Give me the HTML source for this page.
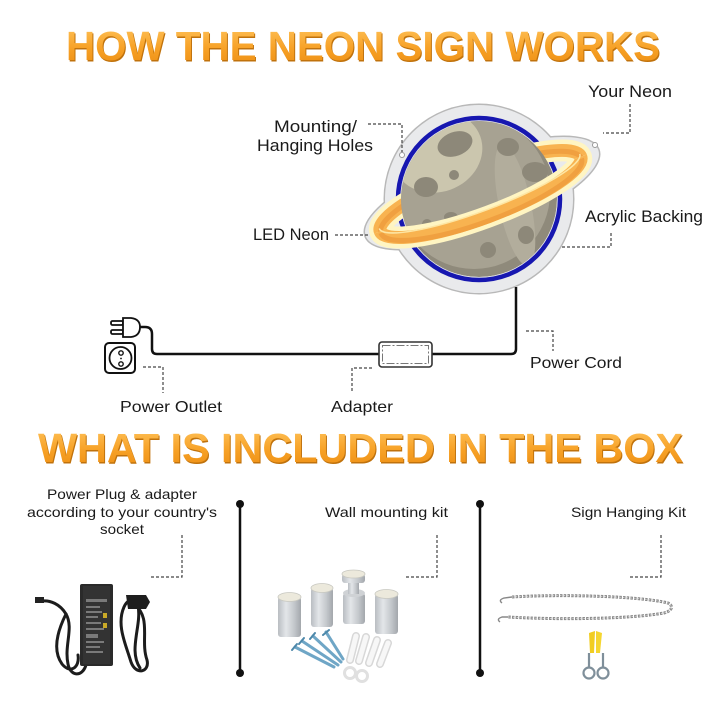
<!DOCTYPE html>
<html>
<head>
<meta charset="utf-8">
<style>
  html,body{margin:0;padding:0;background:#fff;}
  svg{display:block;}
  .lbl{font-family:"Liberation Sans",sans-serif;fill:#1a1a1a;}
  .ttl{font-family:"Liberation Sans",sans-serif;font-weight:bold;}
</style>
</head>
<body>
<svg width="720" height="720" viewBox="0 0 720 720" xmlns="http://www.w3.org/2000/svg">
  <defs>
    <linearGradient id="tg" x1="0" y1="0" x2="0" y2="1">
      <stop offset="0" stop-color="#ffc55e"/>
      <stop offset="0.55" stop-color="#f7a126"/>
      <stop offset="1" stop-color="#ec8d12"/>
    </linearGradient>
    <linearGradient id="cyl" x1="0" y1="0" x2="1" y2="0">
      <stop offset="0" stop-color="#b9bdc2"/>
      <stop offset="0.35" stop-color="#e3e6e9"/>
      <stop offset="0.7" stop-color="#c4c8cc"/>
      <stop offset="1" stop-color="#a3a7ac"/>
    </linearGradient>
    <clipPath id="sp"><circle cx="479" cy="199" r="78"/></clipPath>
  </defs>

  <!-- Titles -->
  <text class="ttl" x="67" y="61.5" font-size="41" fill="#c0720c" textLength="594" lengthAdjust="spacingAndGlyphs">HOW THE NEON SIGN WORKS</text>
  <text class="ttl" x="66" y="60" font-size="41" fill="url(#tg)" textLength="594" lengthAdjust="spacingAndGlyphs">HOW THE NEON SIGN WORKS</text>

  <text class="ttl" x="39" y="463.5" font-size="41" fill="#c0720c" textLength="645" lengthAdjust="spacingAndGlyphs">WHAT IS INCLUDED IN THE BOX</text>
  <text class="ttl" x="38" y="462" font-size="41" fill="url(#tg)" textLength="645" lengthAdjust="spacingAndGlyphs">WHAT IS INCLUDED IN THE BOX</text>

  <!-- Acrylic backing -->
  <g stroke="#b8b8b8" stroke-width="3" fill="#e9eaec">
    <circle cx="479" cy="199" r="94"/>
    <ellipse cx="0" cy="0" rx="124" ry="38" transform="translate(482,193) rotate(-20.4)"/>
  </g>
  <g fill="#e9eaec">
    <circle cx="479" cy="199" r="94"/>
    <ellipse cx="0" cy="0" rx="124" ry="38" transform="translate(482,193) rotate(-20.4)"/>
  </g>

  <!-- Blue neon circle -->
  <circle cx="479" cy="199" r="81" fill="none" stroke="#1717b0" stroke-width="4.5"/>

  <!-- Ring back -->
  <g transform="translate(480.5,194) rotate(-20.4)" fill="none">
    <ellipse cx="0" cy="0" rx="107" ry="24" stroke="#fff5c2" stroke-width="22"/>
    <ellipse cx="0" cy="0" rx="107" ry="24" stroke="#f8b350" stroke-width="13"/>
    <ellipse cx="0" cy="2" rx="107" ry="26" stroke="#f0a040" stroke-width="5"/>
  </g>

  <!-- Sphere -->
  <g clip-path="url(#sp)">
    <circle cx="479" cy="199" r="78" fill="#8f8a7b"/>
    <circle cx="474" cy="193" r="76" fill="#a7a292"/>
    <ellipse cx="515" cy="205" rx="16" ry="62" fill="#b2ad9c" transform="rotate(-12 515 205)"/>
    <ellipse cx="437" cy="152" rx="46" ry="40" fill="#cbc6ae" transform="rotate(-20 437 152)"/>
    <g fill="#8d8879">
      <ellipse cx="455" cy="144" rx="18" ry="12" transform="rotate(-20 455 144)"/>
      <circle cx="454" cy="175" r="5"/>
      <ellipse cx="426" cy="187" rx="12" ry="10"/>
      <ellipse cx="508" cy="147" rx="11" ry="9"/>
      <ellipse cx="535" cy="172" rx="13" ry="10"/>
      <circle cx="427" cy="224" r="5"/>
      <ellipse cx="451" cy="217" rx="7" ry="5"/>
      <ellipse cx="526" cy="235" rx="8" ry="9"/>
      <circle cx="488" cy="250" r="8"/>
      <ellipse cx="493" cy="210" rx="10" ry="5"/>
    </g>
  </g>

  <!-- Ring front -->
  <g transform="translate(480.5,194) rotate(-20.4)" fill="none">
    <path d="M -107 0 A 107 24 0 0 0 107 0" stroke="#fff5c2" stroke-width="22"/>
    <path d="M -107 0 A 107 24 0 0 0 107 0" stroke="#f8b350" stroke-width="13"/>
    <path d="M -107 2 A 107 26 0 0 0 107 2" stroke="#f0a040" stroke-width="5"/>
    <path d="M -107 -3 A 107 20 0 0 0 107 -3" stroke="#fde6a4" stroke-width="1.5"/>
  </g>

  <!-- Mounting holes -->
  <circle cx="402" cy="155" r="2.5" fill="#fff" stroke="#999" stroke-width="1"/>
  <circle cx="595" cy="145" r="2.5" fill="#fff" stroke="#999" stroke-width="1"/>

  <!-- Power cord -->
  <path d="M 516 287 L 516 349 Q 516 354 511 354 L 157 354 Q 152 354 152 349 L 152 334 Q 152 327 145 327 L 140 327" fill="none" stroke="#111" stroke-width="2.5"/>

  <!-- Adapter box -->
  <rect x="379" y="342" width="53" height="25" rx="3" fill="#fff" stroke="#333" stroke-width="1.6"/>
  <rect x="382.5" y="345.5" width="46" height="18" fill="none" stroke="#777" stroke-width="1" stroke-dasharray="8 2 2 2"/>

  <!-- Plug icon -->
  <g fill="#fff" stroke="#111" stroke-width="1.8">
    <rect x="111" y="321" width="12" height="4" rx="1.5"/>
    <rect x="111" y="330" width="12" height="4" rx="1.5"/>
    <path d="M 123 318 L 131 318 Q 140 319 140 327 Q 140 336 131 337 L 123 337 Z"/>
  </g>
  <!-- Outlet icon -->
  <rect x="105" y="343" width="30" height="30" rx="4" fill="#fff" stroke="#111" stroke-width="2"/>
  <circle cx="120.5" cy="358" r="11" fill="none" stroke="#111" stroke-width="1.8"/>
  <circle cx="121" cy="353" r="2.2" fill="none" stroke="#111" stroke-width="1.4"/>
  <circle cx="121" cy="364" r="2.2" fill="none" stroke="#111" stroke-width="1.4"/>
  <circle cx="121" cy="358.5" r="0.9" fill="#111"/>

  <!-- Dashed leader lines -->
  <g fill="none" stroke="#444" stroke-width="1.2" stroke-dasharray="3 2">
    <path d="M 630 104 L 630 133 L 603 133"/>
    <path d="M 368 124 L 402 124 L 402 152"/>
    <path d="M 335 235 L 368 235"/>
    <path d="M 611 233 L 611 247 L 560 247"/>
    <path d="M 526 331 L 553 331 L 553 351"/>
    <path d="M 372 368 L 352 368 L 352 393"/>
    <path d="M 143 367 L 163 367 L 163 393"/>
    <path d="M 182 535 L 182 577 L 150 577"/>
    <path d="M 437 535 L 437 577 L 404 577"/>
    <path d="M 661 535 L 661 577 L 628 577"/>
  </g>

  <!-- Upper labels -->
  <text class="lbl" x="588" y="97" font-size="17" textLength="84" lengthAdjust="spacingAndGlyphs">Your Neon</text>
  <text class="lbl" x="274" y="132" font-size="17" textLength="83" lengthAdjust="spacingAndGlyphs">Mounting/</text>
  <text class="lbl" x="257" y="151" font-size="17" textLength="116" lengthAdjust="spacingAndGlyphs">Hanging Holes</text>
  <text class="lbl" x="253" y="240" font-size="17" textLength="76" lengthAdjust="spacingAndGlyphs">LED Neon</text>
  <text class="lbl" x="585" y="222" font-size="17" textLength="118" lengthAdjust="spacingAndGlyphs">Acrylic Backing</text>
  <text class="lbl" x="530" y="368" font-size="16" textLength="92" lengthAdjust="spacingAndGlyphs">Power Cord</text>
  <text class="lbl" x="331" y="412" font-size="16" textLength="62" lengthAdjust="spacingAndGlyphs">Adapter</text>
  <text class="lbl" x="120" y="412" font-size="16" textLength="102" lengthAdjust="spacingAndGlyphs">Power Outlet</text>

  <!-- Bottom labels -->
  <text class="lbl" x="47" y="499" font-size="14" textLength="150" lengthAdjust="spacingAndGlyphs">Power Plug &amp; adapter</text>
  <text class="lbl" x="27" y="517" font-size="14" textLength="190" lengthAdjust="spacingAndGlyphs">according to your country's</text>
  <text class="lbl" x="100" y="534" font-size="14" textLength="44" lengthAdjust="spacingAndGlyphs">socket</text>
  <text class="lbl" x="325" y="517" font-size="14" textLength="123" lengthAdjust="spacingAndGlyphs">Wall mounting kit</text>
  <text class="lbl" x="571" y="517" font-size="14" textLength="115" lengthAdjust="spacingAndGlyphs">Sign Hanging Kit</text>

  <!-- Dividers -->
  <g stroke="#111" stroke-width="2.5">
    <line x1="240" y1="504" x2="240" y2="673"/>
    <line x1="480" y1="504" x2="480" y2="673"/>
  </g>
  <g fill="#111">
    <circle cx="240" cy="504" r="4"/><circle cx="240" cy="673" r="4"/>
    <circle cx="480" cy="504" r="4"/><circle cx="480" cy="673" r="4"/>
  </g>

  <!-- Power adapter product -->
  <g fill="none" stroke="#1c1c1c" stroke-width="3" stroke-linecap="round">
    <path d="M 86 665 C 82 678, 70 676, 68 664 C 64 645, 74 628, 66 614 C 60 604, 50 600, 42 601"/>
    <path d="M 66 614 C 58 630, 52 650, 62 664 C 70 674, 80 668, 78 655"/>
    <path d="M 134 604 C 152 618, 140 640, 147 660 C 150 672, 136 676, 131 662 C 126 645, 116 625, 124 607 C 128 598, 136 598, 138 606 C 142 625, 128 650, 140 668"/>
  </g>
  <rect x="35" y="597" width="9" height="6" fill="#222"/>
  <path d="M 126 595 L 146 595 L 150 602 L 146 609 L 128 609 Z" fill="#1e1e1e"/>
  <rect x="80" y="584" width="33" height="82" rx="2" fill="#2a2a2a"/>
  <rect x="83" y="586" width="27" height="78" fill="#333"/>
  <g fill="#7a7a7a">
    <rect x="86" y="599" width="21" height="3"/>
    <rect x="86" y="606" width="14" height="2"/>
    <rect x="86" y="611" width="16" height="2"/>
    <rect x="86" y="616" width="12" height="2"/>
    <rect x="86" y="622" width="15" height="2"/>
    <rect x="86" y="628" width="18" height="2"/>
    <rect x="86" y="634" width="12" height="4"/>
    <rect x="86" y="641" width="18" height="2"/>
    <rect x="86" y="646" width="14" height="2"/>
    <rect x="86" y="651" width="17" height="2"/>
  </g>
  <rect x="103" y="613" width="4" height="5" fill="#c9a927"/>
  <rect x="103" y="623" width="4" height="5" fill="#c9a927"/>

  <!-- Wall mounting kit -->
  <g>
    <rect x="278" y="597" width="23" height="40" rx="3" fill="url(#cyl)"/>
    <ellipse cx="289.5" cy="597" rx="11.5" ry="4.5" fill="#ece9dc" stroke="#c8c8c0" stroke-width="0.8"/>
    <rect x="311" y="588" width="22" height="39" rx="3" fill="url(#cyl)"/>
    <ellipse cx="322" cy="588" rx="11" ry="4.5" fill="#ece9dc" stroke="#c8c8c0" stroke-width="0.8"/>
    <rect x="343" y="593" width="22" height="31" rx="3" fill="url(#cyl)"/>
    <ellipse cx="354" cy="593" rx="11" ry="4" fill="#cfd2d5"/>
    <rect x="348" y="583" width="11" height="11" fill="url(#cyl)"/>
    <rect x="342" y="574" width="23" height="9" rx="3" fill="url(#cyl)"/>
    <ellipse cx="353.5" cy="574" rx="11.5" ry="4" fill="#ece9dc" stroke="#c8c8c0" stroke-width="0.8"/>
    <rect x="375" y="594" width="23" height="40" rx="3" fill="url(#cyl)"/>
    <ellipse cx="386.5" cy="594" rx="11.5" ry="4.5" fill="#ece9dc" stroke="#c8c8c0" stroke-width="0.8"/>
  </g>
  <g stroke="#6fa6c6" stroke-width="3" stroke-linecap="round">
    <line x1="295" y1="647" x2="334" y2="667"/>
    <line x1="302" y1="641" x2="338" y2="665"/>
    <line x1="313" y1="636" x2="341" y2="662"/>
    <line x1="326" y1="632" x2="343" y2="659"/>
  </g>
  <g stroke="#4d88aa" stroke-width="2" stroke-linecap="round">
    <line x1="292" y1="650" x2="297" y2="644"/>
    <line x1="299" y1="644" x2="304" y2="638"/>
    <line x1="310" y1="639" x2="315" y2="633"/>
    <line x1="323" y1="635" x2="329" y2="630"/>
  </g>
  <g stroke="#d8d8d8" stroke-width="8" stroke-linecap="round">
    <line x1="356" y1="636" x2="350" y2="660"/>
    <line x1="366" y1="637" x2="359" y2="661"/>
    <line x1="377" y1="640" x2="369" y2="663"/>
    <line x1="388" y1="643" x2="380" y2="664"/>
  </g>
  <g stroke="#f7f7f7" stroke-width="5" stroke-linecap="round">
    <line x1="356" y1="636" x2="350" y2="660"/>
    <line x1="366" y1="637" x2="359" y2="661"/>
    <line x1="377" y1="640" x2="369" y2="663"/>
    <line x1="388" y1="643" x2="380" y2="664"/>
  </g>
  <circle cx="350" cy="673" r="5.5" fill="none" stroke="#e0e0e0" stroke-width="3"/>
  <circle cx="362" cy="676" r="5.5" fill="none" stroke="#e0e0e0" stroke-width="3"/>

  <!-- Sign hanging kit -->
  <g fill="none" stroke="#8a8a8a" stroke-width="3" stroke-dasharray="2.5 1.2">
    <path d="M 512 597 C 560 594, 640 596, 668 603 C 674 606, 672 611, 664 613 C 630 619, 560 620, 508 617"/>
  </g>
  <g fill="none" stroke="#cfcfcf" stroke-width="1" stroke-dasharray="1.5 2.2">
    <path d="M 512 597 C 560 594, 640 596, 668 603 C 674 606, 672 611, 664 613 C 630 619, 560 620, 508 617"/>
  </g>
  <g fill="none" stroke="#888" stroke-width="1.4">
    <path d="M 512 597 L 504 598 Q 498 600 502 603"/>
    <path d="M 508 617 L 502 617 Q 496 619 500 622"/>
  </g>
  <path d="M 589 633 L 595 631 L 594 653 L 590 653 Z" fill="#f1cd22"/>
  <path d="M 596 631 L 602 633 L 600 653 L 596 653 Z" fill="#f5d630"/>
  <g stroke="#7f8f9a" stroke-width="2.2" fill="none">
    <line x1="589" y1="653" x2="589" y2="667"/>
    <line x1="603" y1="653" x2="603" y2="667"/>
    <circle cx="589" cy="673" r="5.5"/>
    <circle cx="603" cy="673" r="5.5"/>
  </g>
</svg>
</body>
</html>
